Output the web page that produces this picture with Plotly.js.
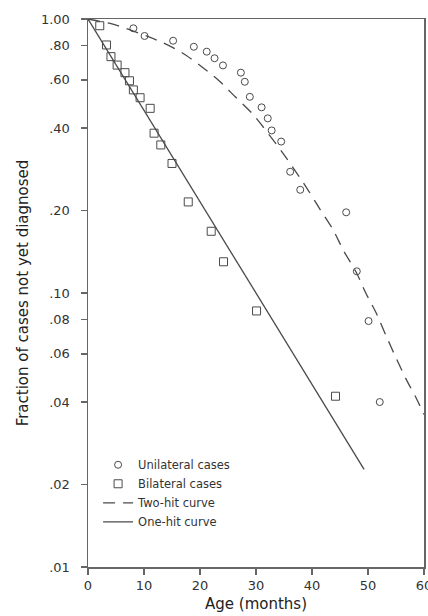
<!DOCTYPE html>
<html>
<head>
<meta charset="utf-8">
<script src="https://cdn.plot.ly/plotly-3.0.1.min.js"></script>
<style>
  html, body { margin: 0; padding: 0; background: #fff; }
  #chart { width: 428px; height: 616px; }
</style>
</head>
<body>
<div id="chart"></div>
<script>
// Unilateral cases (open circles)
const uniAge = [8.1, 10.1, 15.2, 18.9, 21.2, 22.6, 24.1, 27.3, 28.0, 28.9, 31.0, 32.1, 32.8, 34.5, 36.1, 37.9, 46.1, 48.0, 50.1, 52.1];
const uniFrac = [0.925, 0.867, 0.833, 0.792, 0.760, 0.719, 0.677, 0.637, 0.590, 0.520, 0.476, 0.434, 0.392, 0.357, 0.277, 0.238, 0.197, 0.120, 0.079, 0.040];

// Bilateral cases (open squares)
const biAge = [2.1, 3.3, 4.1, 5.2, 6.6, 7.4, 8.1, 9.3, 11.1, 11.8, 13.0, 15.0, 17.9, 22.0, 24.2, 30.1, 44.2];
const biFrac = [0.945, 0.804, 0.729, 0.679, 0.637, 0.595, 0.551, 0.516, 0.472, 0.383, 0.347, 0.297, 0.215, 0.168, 0.130, 0.086, 0.042];

// Two-hit curve (dashed)
const twoHitAge = [0, 4.6, 13.0, 16.7, 20.3, 23.4, 26.3, 29.4, 34.6, 39.1, 41.3, 43.7, 45.7, 47.9, 49.6, 51.4, 53.2, 55.0, 56.8, 58.6, 60.0];
const twoHitFrac = [1.0, 0.955, 0.826, 0.755, 0.670, 0.595, 0.520, 0.450, 0.328, 0.241, 0.204, 0.171, 0.142, 0.119, 0.100, 0.085, 0.070, 0.058, 0.0485, 0.0414, 0.0360];

// One-hit curve (solid straight line on the log scale)
const oneHitAge = [0, 49.3];
const oneHitFrac = [1.0, 0.0227];

// Tick labels
const xTicks = [0, 10, 20, 30, 40, 50, 60];
const yTickVals = [0.01, 0.02, 0.04, 0.06, 0.08, 0.1, 0.2, 0.4, 0.6, 0.8, 1.0];
const yTickText = ['.01', '.02', '.04', '.06', '.08', '.10', '.20', '.40', '.60', '.80', '1.00'];

const ink = '#4a4a4a';
const font = 'DejaVu Sans, sans-serif';

const traces = [
  {
    x: uniAge, y: uniFrac, type: 'scatter', mode: 'markers', name: 'Unilateral cases',
    marker: { symbol: 'circle-open', size: 7, color: ink, line: { width: 1, color: ink } },
    cliponaxis: false
  },
  {
    x: biAge, y: biFrac, type: 'scatter', mode: 'markers', name: 'Bilateral cases',
    marker: { symbol: 'square-open', size: 8, color: ink, line: { width: 1, color: ink } },
    cliponaxis: false
  },
  {
    x: twoHitAge, y: twoHitFrac, type: 'scatter', mode: 'lines', name: 'Two-hit curve',
    line: { color: ink, width: 1.3, dash: '12px,8px', shape: 'spline', smoothing: 0.8 }
  },
  {
    x: oneHitAge, y: oneHitFrac, type: 'scatter', mode: 'lines', name: 'One-hit curve',
    line: { color: ink, width: 1.3 }
  }
];

const layout = {
  width: 428, height: 616,
  margin: { l: 88, r: 4, t: 19, b: 49, pad: 0 },
  paper_bgcolor: '#fff', plot_bgcolor: '#fff',
  font: { family: font, color: '#333', size: 13 },
  showlegend: true,
  legend: {
    x: 0.03, y: 0.213, xanchor: 'left', yanchor: 'top',
    bgcolor: 'rgba(0,0,0,0)', borderwidth: 0,
    font: { family: font, size: 11.5, color: '#333' },
    tracegroupgap: 0
  },
  xaxis: {
    range: [0, 60], tickvals: xTicks, ticktext: xTicks.map(String),
    showgrid: false, zeroline: false,
    showline: true, linecolor: '#666', linewidth: 1.5, mirror: true,
    ticks: 'outside', ticklen: 6, tickwidth: 1.5, tickcolor: '#666',
    ticklabeloverflow: 'allow',
    tickfont: { family: font, size: 13, color: '#333' },
    title: { text: 'Age (months)', font: { family: font, size: 15, color: '#222' }, standoff: 6 }
  },
  yaxis: {
    type: 'log', range: [-2, 0],
    tickvals: yTickVals, ticktext: yTickText,
    showgrid: false, zeroline: false,
    showline: true, linecolor: '#666', linewidth: 1.5, mirror: true,
    ticks: 'outside', ticklen: 6, tickwidth: 1.5, tickcolor: '#666',
    ticklabelstandoff: 8,
    tickfont: { family: font, size: 13, color: '#333' },
    title: { text: 'Fraction of cases not yet diagnosed', font: { family: font, size: 15, color: '#222' }, standoff: 8 }
  }
};

Plotly.newPlot('chart', traces, layout, { displayModeBar: false, staticPlot: true });
</script>
</body>
</html>
